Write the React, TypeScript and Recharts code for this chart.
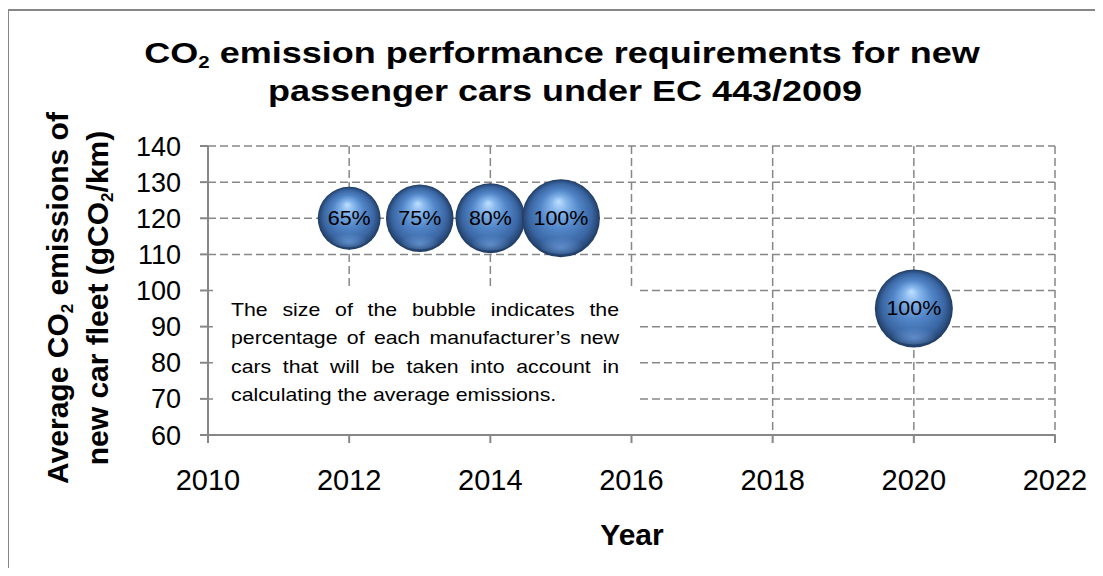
import React from 'react';
import {
    CartesianGrid,
    ReferenceArea,
    Scatter,
    ScatterChart,
    XAxis,
    YAxis,
    ZAxis,
} from 'recharts';

// targets under EC 443/2009
const years = [2012, 2013, 2014, 2015, 2020];
const targets = [120, 120, 120, 120, 95];
const phaseIn = [65, 75, 80, 100, 100];

const xTicks = [2010, 2012, 2014, 2016, 2018, 2020, 2022];
const yTicks = [60, 70, 80, 90, 100, 110, 120, 130, 140];

const noteLines = [
    'The size of the bubble indicates the',
    'percentage of each manufacturer\u2019s new',
    'cars that will be taken into account in',
    'calculating the average emissions.',
];

const chartData = years.map((year, i) => ({
    year,
    target: targets[i],
    share: phaseIn[i],
}));

const FONT = "'Liberation Sans', Arial, sans-serif";
const GREY = '#878787';
const MAX_R = 39;

const Bubble = (props: any) => {
    const { cx, cy, payload } = props;
    const r = props.width ? props.width / 2 : Math.sqrt((props.size || 0) / Math.PI);
    return (
        <g>
            <circle cx={cx} cy={cy} r={r} fill="url(#sphereFill)" />
            <ellipse
                cx={cx}
                cy={cy + r * 0.64}
                rx={r * 0.6}
                ry={r * 0.28}
                fill="url(#sphereRim)"
            />
            <text
                transform={`translate(${cx},${cy}) scale(1.1,1)`}
                dy="0.35em"
                textAnchor="middle"
                fontFamily={FONT}
                fontSize={19.5}
                fill="#000"
            >
                {payload.share}%
            </text>
        </g>
    );
};

export default function App() {
    return (
        <div
            style={{
                position: 'relative',
                margin: -8,
                width: 1103,
                height: 576,
                overflow: 'hidden',
                background: '#fff',
                fontFamily: FONT,
            }}
        >
            <svg width={0} height={0} style={{ position: 'absolute' }}>
                <defs>
                    <radialGradient id="sphereFill" cx="50%" cy="50%" r="50%" fx="47%" fy="28%">
                        <stop offset="0%" stopColor="#bfe0ff" />
                        <stop offset="20%" stopColor="#86b6ec" />
                        <stop offset="50%" stopColor="#5286c8" />
                        <stop offset="80%" stopColor="#3a66a3" />
                        <stop offset="93%" stopColor="#2a4c7c" />
                        <stop offset="100%" stopColor="#1e3a60" />
                    </radialGradient>
                    <radialGradient id="sphereRim" cx="50%" cy="70%" r="50%">
                        <stop offset="0%" stopColor="#79a8e6" stopOpacity={0.6} />
                        <stop offset="100%" stopColor="#79a8e6" stopOpacity={0} />
                    </radialGradient>
                </defs>
            </svg>

            <div
                style={{
                    position: 'absolute',
                    left: 7,
                    top: 9,
                    width: 1200,
                    height: 700,
                    borderLeft: `2px solid ${GREY}`,
                    borderTop: `2px solid ${GREY}`,
                }}
            />

            <div style={{ position: 'absolute', left: 0, top: 0 }}>
                <ScatterChart
                    width={1103}
                    height={576}
                    margin={{ top: 146, right: 48, bottom: 0, left: 0 }}
                >
                    <CartesianGrid stroke={GREY} strokeWidth={1.5} strokeDasharray="8 4" />
                    <XAxis
                        type="number"
                        dataKey="year"
                        domain={[2010, 2022]}
                        ticks={xTicks}
                        height={141}
                        axisLine={{ stroke: GREY, strokeWidth: 2 }}
                        tickLine={{ stroke: GREY, strokeWidth: 2 }}
                        tickSize={8}
                        tickMargin={26}
                        tick={{ fill: '#000', fontSize: 29, fontFamily: FONT }}
                        allowDataOverflow
                    />
                    <YAxis
                        type="number"
                        dataKey="target"
                        domain={[60, 140]}
                        ticks={yTicks}
                        width={208}
                        axisLine={{ stroke: GREY, strokeWidth: 2 }}
                        tickLine={{ stroke: GREY, strokeWidth: 2 }}
                        tickSize={8}
                        tickMargin={19}
                        tick={{ fill: '#000', fontSize: 27, fontFamily: FONT }}
                        allowDataOverflow
                    />
                    <ZAxis
                        type="number"
                        dataKey="share"
                        domain={[0, 100]}
                        range={[0, Math.PI * MAX_R * MAX_R]}
                    />
                    <ReferenceArea
                        x1={2010.07}
                        x2={2016.08}
                        y1={60.4}
                        y2={100.8}
                        fill="#fff"
                        fillOpacity={1}
                        stroke="none"
                    />
                    <Scatter data={chartData} shape={<Bubble />} isAnimationActive={false} />
                </ScatterChart>
            </div>

            <svg
                width={1103}
                height={576}
                style={{ position: 'absolute', left: 0, top: 0, pointerEvents: 'none' }}
                fontFamily={FONT}
                fontWeight="bold"
                fill="#000"
            >
                <text transform="translate(562,63) scale(1.2,1)" textAnchor="middle" fontSize={30}>
                    CO<tspan fontSize={17} dy={5}>2</tspan>
                    <tspan dy={-5}> emission performance requirements for new</tspan>
                </text>
                <text transform="translate(565,101) scale(1.2,1)" textAnchor="middle" fontSize={30}>
                    passenger cars under EC 443/2009
                </text>
                <text transform="translate(68,298) rotate(-90)" textAnchor="middle" fontSize={30}>
                    Average CO<tspan fontSize={17} dy={5}>2</tspan>
                    <tspan dy={-5}> emissions of</tspan>
                </text>
                <text transform="translate(108,298) rotate(-90)" textAnchor="middle" fontSize={30}>
                    new car fleet (gCO<tspan fontSize={17} dy={5}>2</tspan>
                    <tspan dy={-5}>/km)</tspan>
                </text>
                <text x={632} y={545} textAnchor="middle" fontSize={30}>
                    Year
                </text>
            </svg>

            <div
                style={{
                    position: 'absolute',
                    left: 231,
                    top: 296,
                    width: 388 / 1.15,
                    fontSize: 18.5,
                    lineHeight: '28.3px',
                    color: '#000',
                    transform: 'scaleX(1.15)',
                    transformOrigin: 'left top',
                }}
            >
                {noteLines.map((line, i) => (
                    <div
                        key={i}
                        style={{
                            whiteSpace: 'nowrap',
                            textAlign: 'justify',
                            textAlignLast: i < noteLines.length - 1 ? 'justify' : 'left',
                        }}
                    >
                        {line}
                    </div>
                ))}
            </div>
        </div>
    );
}
